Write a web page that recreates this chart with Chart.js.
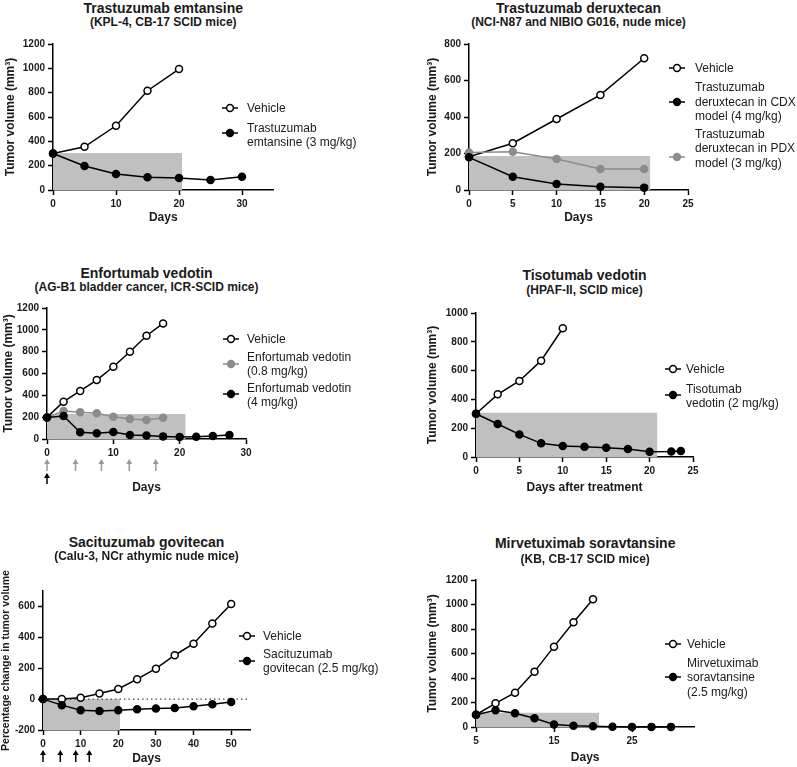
<!DOCTYPE html>
<html>
<head>
<meta charset="utf-8">
<script src="https://cdn.jsdelivr.net/npm/chart.js@4.4.1/dist/chart.umd.min.js"></script>
<style>
  body { margin: 0; width: 797px; height: 767px; position: relative; overflow: hidden; background: #fff;
         font-family: "Liberation Sans", Arial, sans-serif; color: #1a1a1a; }
  canvas { position: absolute; }
  .t { position: absolute; width: 400px; text-align: center; font-weight: bold; white-space: nowrap; line-height: 1.15; }
  .lg { position: absolute; font-size: 12px; line-height: 14.5px; white-space: nowrap; }
  .mk { position: absolute; }
</style>
</head>
<body>
<script>
// ---- A: trastuzumab emtansine (KPL-4) ----
const tdm1VehDays = [0, 5, 10, 15, 20];
const tdm1Vehicle = [300, 355, 528, 816, 994];
const tdm1DrugDays = [0, 5, 10, 15, 20, 25, 30];
const tdm1Drug = [300, 197, 131, 104, 99, 82, 109];
const tdm1ShadeDays = [0, 20.5];
const tdm1ShadeVol = [305, 305];
const tdm1XTicks = [0, 10, 20, 30];
const tdm1YTicks = [0, 200, 400, 600, 800, 1000, 1200];

// ---- B: trastuzumab deruxtecan ----
const tdxdDays = [0, 5, 10, 15, 20];
const tdxdVehicle = [182, 256, 389, 521, 722];
const tdxdCdx = [179, 73, 33, 18, 13];
const tdxdPdx = [206, 210, 170, 115, 115];
const tdxdShadeDays = [0, 20.7];
const tdxdShadeVol = [186, 186];
const tdxdXTicks = [0, 5, 10, 15, 20, 25];
const tdxdYTicks = [0, 200, 400, 600, 800];

// ---- C: enfortumab vedotin ----
const evVehDays = [0, 2.5, 5, 7.5, 10, 12.5, 15, 17.5];
const evVehicle = [198, 342, 440, 540, 662, 799, 946, 1059];
const evLow = [198, 256, 244, 235, 204, 183, 174, 195];
const evHighDays = [0, 2.5, 5, 7.5, 10, 12.5, 15, 17.5, 20, 22.5, 25, 27.5];
const evHigh = [198, 211, 61, 52, 64, 37, 31, 24, 18, 21, 27, 37];
const evShadeDays = [0, 20.9];
const evShadeVol = [228, 228];
const evLowDoseDays = [0, 4.3, 8.2, 12.4, 16.4];
const evHighDoseDays = [0];
const evXTicks = [0, 10, 20, 30];
const evYTicks = [0, 200, 400, 600, 800, 1000, 1200];

// ---- D: tisotumab vedotin ----
const tvVehDays = [0, 2.5, 5, 7.5, 10];
const tvVehicle = [300, 435, 528, 669, 894];
const tvDrugDays = [0, 2.5, 5, 7.5, 10, 12.5, 15, 17.5, 20, 22.5, 23.6];
const tvDrug = [300, 229, 157, 95, 76, 72, 65, 56, 37, 39, 42];
const tvShadeDays = [0, 20.9];
const tvShadeVol = [307, 307];
const tvXTicks = [0, 5, 10, 15, 20, 25];
const tvYTicks = [0, 200, 400, 600, 800, 1000];

// ---- E: sacituzumab govitecan (% change) ----
const sgDays = [0, 5, 10, 15, 20, 25, 30, 35, 40, 45, 50];
const sgVehicle = [0, 0, 9, 37, 66, 129, 197, 284, 359, 490, 616];
const sgDrug = [0, -39, -72, -77, -72, -66, -61, -57, -46, -33, -18];
const sgShadeDays = [0, 20.5];
const sgShadeVal = [0, 0];
const sgZeroDays = [0, 55];
const sgZeroVal = [0, 0];
const sgDoseDays = [0, 4.6, 8.7, 12.3];
const sgXTicks = [0, 10, 20, 30, 40, 50];
const sgYTicks = [-200, 0, 200, 400, 600];

// ---- F: mirvetuximab soravtansine ----
const mirvVehDays = [5, 7.5, 10, 12.5, 15, 17.5, 20];
const mirvVehicle = [100, 193, 280, 452, 656, 855, 1043];
const mirvDrugDays = [5, 7.5, 10, 12.5, 15, 17.5, 20, 22.5, 25, 27.5, 30];
const mirvDrug = [100, 137, 112, 71, 20, 10, 6, 2, 1, 1, 1];
const mirvShadeDays = [5, 20.8];
const mirvShadeVol = [117, 117];
const mirvXTicks = [5, 15, 25];
const mirvYTicks = [0, 200, 400, 600, 800, 1000, 1200];

Chart.defaults.font.family = '"Liberation Sans", Arial, sans-serif';
Chart.defaults.color = '#1a1a1a';

const COLORS = { open: '#000', black: '#000', gray: '#8c8c8c' };

function pts(xs, ys) { return xs.map((x, i) => ({ x: x, y: ys[i] })); }

function lineSet(xs, ys, kind, order) {
  const col = COLORS[kind];
  return {
    data: pts(xs, ys), order: order, clip: false,
    borderColor: col, borderWidth: 1.5,
    pointRadius: 3.5, pointHoverRadius: 3.5, pointBorderWidth: 1.5,
    pointBorderColor: col, pointBackgroundColor: kind === 'open' ? '#fff' : col
  };
}

function shadeSet(xs, ys) {
  return { data: pts(xs, ys), order: 10, clip: false, fill: 'start',
           backgroundColor: '#c0c0c0', borderColor: 'rgba(0,0,0,0)', borderWidth: 0, pointRadius: 0 };
}

function dottedSet(xs, ys) {
  return { data: pts(xs, ys), order: 5, clip: false, borderColor: '#444', borderWidth: 1.2,
           borderDash: [1.5, 3], pointRadius: 0 };
}

function marker(kind, cx, cy) {
  const col = COLORS[kind];
  const fill = kind === 'open' ? '#fff' : col;
  return '<svg class="mk" style="left:' + (cx - 8) + 'px;top:' + (cy - 6) + 'px" width="16" height="12">' +
    '<line x1="0" y1="6" x2="16" y2="6" stroke="' + col + '" stroke-width="1.5"/>' +
    '<circle cx="8" cy="6" r="3.4" fill="' + fill + '" stroke="' + col + '" stroke-width="1.5"/></svg>';
}

function addHtml(html) { document.body.insertAdjacentHTML('beforeend', html); }

// dose arrows under the x axis
function arrowPlugin(specs) {
  return {
    id: 'doseArrows',
    afterDraw(chart) {
      const ctx = chart.ctx, xs = chart.scales.x, base = chart.chartArea.bottom;
      specs.forEach(sp => {
        sp.days.forEach(d => {
          const x = xs.getPixelForValue(d), tip = base + sp.tip;
          ctx.save();
          ctx.strokeStyle = sp.color; ctx.fillStyle = sp.color; ctx.lineWidth = 1.5;
          ctx.beginPath(); ctx.moveTo(x, tip + 3); ctx.lineTo(x, tip + sp.len); ctx.stroke();
          ctx.beginPath(); ctx.moveTo(x, tip); ctx.lineTo(x - 3, tip + 5); ctx.lineTo(x + 3, tip + 5); ctx.closePath(); ctx.fill();
          ctx.restore();
        });
      });
    }
  };
}

function buildPanel(c) {
  const cLeft = c.x0;
  const cTop = Math.floor(c.top) - (c.topMargin || 12);
  const w = Math.ceil(c.right + 15 - cLeft);
  const h = Math.ceil(c.xTitleY + 10 - cTop);
  const padTop = c.top - cTop;
  const padRight = cLeft + w - c.right;
  const yAxisW = c.left - cLeft;
  const xAxisH = cTop + h - c.bottom;
  const xTitlePad = (cTop + h) - c.xTitleY - 12 * 1.2 / 2;
  const yTitlePad = Math.max(0, c.yTitleX - cLeft - c.yTitleSize * 1.2 / 2);

  const cv = document.createElement('canvas');
  cv.width = w; cv.height = h;
  cv.style.left = cLeft + 'px'; cv.style.top = cTop + 'px';
  cv.style.width = w + 'px'; cv.style.height = h + 'px';
  document.body.appendChild(cv);

  const axisCommon = {
    type: 'linear',
    grid: { display: true, drawOnChartArea: false, drawTicks: true, tickLength: 5, tickWidth: 1.5, tickColor: '#000' },
    border: { display: true, color: '#000', width: 1.5 },
  };

  new Chart(cv, {
    type: 'line',
    data: { datasets: c.datasets },
    options: {
      responsive: false, animation: false, devicePixelRatio: 1, events: [],
      layout: { padding: { left: 0, top: padTop, right: padRight, bottom: 0 } },
      plugins: { legend: { display: false }, tooltip: { enabled: false } },
      scales: {
        x: Object.assign({}, axisCommon, {
          min: c.xMin, max: c.xMax,
          afterBuildTicks: s => { s.ticks = c.xTicks.map(v => ({ value: v })); },
          afterFit: s => { s.height = xAxisH; },
          ticks: { font: { size: 10, weight: 'bold' }, color: '#1a1a1a', padding: 3, maxRotation: 0, autoSkip: false, callback: v => String(v) },
          title: { display: true, text: c.xTitle, color: '#1a1a1a', font: { size: 12, weight: 'bold' }, padding: { top: 0, bottom: xTitlePad } }
        }),
        y: Object.assign({}, axisCommon, {
          min: c.yMin, max: c.yMax,
          afterBuildTicks: s => { s.ticks = c.yTicks.map(v => ({ value: v })); },
          afterFit: s => { s.width = yAxisW; },
          ticks: { font: { size: 10, weight: 'bold' }, color: '#1a1a1a', padding: 3, autoSkip: false, callback: v => String(v) },
          title: { display: true, text: c.yTitle, color: '#1a1a1a', font: { size: c.yTitleSize, weight: 'bold' }, padding: { top: yTitlePad, bottom: 0 } }
        })
      }
    },
    plugins: c.arrows ? [arrowPlugin(c.arrows)] : []
  });

  // title + subtitle, centred over the x axis
  const cx = (c.left + c.right) / 2;
  addHtml('<div class="t" style="font-size:14px;left:' + (cx - 200) + 'px;top:' + (c.titleY - 8) + 'px">' + c.title + '</div>');
  addHtml('<div class="t" style="font-size:12px;left:' + (cx - 200) + 'px;top:' + (c.subY - 7) + 'px">' + c.subtitle + '</div>');

  // legend
  c.legend.forEach(e => {
    addHtml(marker(e.kind, c.legMarkX, e.markY));
    addHtml('<div class="lg" style="left:' + c.legTextX + 'px;top:' + (e.textY - 7.25) + 'px">' + e.lines.join('<br>') + '</div>');
  });
}

const VOL = 'Tumor volume (mm³)';

buildPanel({
  x0: 0, left: 53, top: 44, right: 273.5, bottom: 190,
  xMin: 0, xMax: 35, yMin: 0, yMax: 1200, xTicks: tdm1XTicks, yTicks: tdm1YTicks,
  xTitle: 'Days', xTitleY: 218, yTitle: VOL, yTitleX: 11, yTitleSize: 12,
  title: 'Trastuzumab emtansine', subtitle: '(KPL-4, CB-17 SCID mice)', titleY: 8, subY: 23,
  datasets: [
    shadeSet(tdm1ShadeDays, tdm1ShadeVol),
    lineSet(tdm1VehDays, tdm1Vehicle, 'open', 3),
    lineSet(tdm1DrugDays, tdm1Drug, 'black', 1)
  ],
  legMarkX: 230, legTextX: 247,
  legend: [
    { kind: 'open', markY: 108, textY: 108, lines: ['Vehicle'] },
    { kind: 'black', markY: 133, textY: 128, lines: ['Trastuzumab', 'emtansine (3 mg/kg)'] }
  ]
});

buildPanel({
  x0: 400, left: 469, top: 44, right: 688, bottom: 190,
  xMin: 0, xMax: 25, yMin: 0, yMax: 800, xTicks: tdxdXTicks, yTicks: tdxdYTicks,
  xTitle: 'Days', xTitleY: 218, yTitle: VOL, yTitleX: 433, yTitleSize: 12,
  title: 'Trastuzumab deruxtecan', subtitle: '(NCI-N87 and NIBIO G016, nude mice)', titleY: 8, subY: 23,
  datasets: [
    shadeSet(tdxdShadeDays, tdxdShadeVol),
    lineSet(tdxdDays, tdxdVehicle, 'open', 3),
    lineSet(tdxdDays, tdxdPdx, 'gray', 2),
    lineSet(tdxdDays, tdxdCdx, 'black', 1)
  ],
  legMarkX: 677, legTextX: 695,
  legend: [
    { kind: 'open', markY: 68, textY: 68, lines: ['Vehicle'] },
    { kind: 'black', markY: 102, textY: 87.5, lines: ['Trastuzumab', 'deruxtecan in CDX', 'model (4 mg/kg)'] },
    { kind: 'gray', markY: 157, textY: 134, lines: ['Trastuzumab', 'deruxtecan in PDX', 'model (3 mg/kg)'] }
  ]
});

buildPanel({
  x0: 0, left: 47, top: 308, right: 246, bottom: 439,
  xMin: 0, xMax: 30, yMin: 0, yMax: 1200, xTicks: evXTicks, yTicks: evYTicks,
  xTitle: 'Days', xTitleY: 488, yTitle: VOL, yTitleX: 9, yTitleSize: 12,
  title: 'Enfortumab vedotin', subtitle: '(AG-B1 bladder cancer, ICR-SCID mice)', titleY: 273, subY: 288,
  datasets: [
    shadeSet(evShadeDays, evShadeVol),
    lineSet(evVehDays, evVehicle, 'open', 3),
    lineSet(evVehDays, evLow, 'gray', 2),
    lineSet(evHighDays, evHigh, 'black', 1)
  ],
  arrows: [
    { days: evLowDoseDays, color: '#999', tip: 20, len: 12 },
    { days: evHighDoseDays, color: '#000', tip: 34, len: 11 }
  ],
  legMarkX: 231, legTextX: 247,
  legend: [
    { kind: 'open', markY: 339, textY: 339, lines: ['Vehicle'] },
    { kind: 'gray', markY: 364, textY: 357, lines: ['Enfortumab vedotin', '(0.8 mg/kg)'] },
    { kind: 'black', markY: 394, textY: 388, lines: ['Enfortumab vedotin', '(4 mg/kg)'] }
  ]
});

buildPanel({
  x0: 400, left: 476, top: 313, right: 693, bottom: 457,
  xMin: 0, xMax: 25, yMin: 0, yMax: 1000, xTicks: tvXTicks, yTicks: tvYTicks,
  xTitle: 'Days after treatment', xTitleY: 488, yTitle: VOL, yTitleX: 433, yTitleSize: 12,
  title: 'Tisotumab vedotin', subtitle: '(HPAF-II, SCID mice)', titleY: 275, subY: 291,
  datasets: [
    shadeSet(tvShadeDays, tvShadeVol),
    lineSet(tvVehDays, tvVehicle, 'open', 3),
    lineSet(tvDrugDays, tvDrug, 'black', 1)
  ],
  legMarkX: 673, legTextX: 686,
  legend: [
    { kind: 'open', markY: 369, textY: 369, lines: ['Vehicle'] },
    { kind: 'black', markY: 395, textY: 389, lines: ['Tisotumab', 'vedotin (2 mg/kg)'] }
  ]
});

buildPanel({
  x0: 0, left: 43, top: 591, right: 250, bottom: 730, topMargin: 28,
  xMin: 0, xMax: 55, yMin: -200, yMax: 700, xTicks: sgXTicks, yTicks: sgYTicks,
  xTitle: 'Days', xTitleY: 759, yTitle: 'Percentage change in tumor volume', yTitleX: 6, yTitleSize: 10.5,
  title: 'Sacituzumab govitecan', subtitle: '(Calu-3, NCr athymic nude mice)', titleY: 542, subY: 557,
  datasets: [
    shadeSet(sgShadeDays, sgShadeVal),
    dottedSet(sgZeroDays, sgZeroVal),
    lineSet(sgDays, sgVehicle, 'open', 3),
    lineSet(sgDays, sgDrug, 'black', 1)
  ],
  arrows: [{ days: sgDoseDays, color: '#000', tip: 20, len: 12 }],
  legMarkX: 247, legTextX: 263,
  legend: [
    { kind: 'open', markY: 636, textY: 636, lines: ['Vehicle'] },
    { kind: 'black', markY: 661, textY: 654, lines: ['Sacituzumab', 'govitecan (2.5 mg/kg)'] }
  ]
});

buildPanel({
  x0: 400, left: 476, top: 580, right: 694.4, bottom: 727,
  xMin: 5, xMax: 33, yMin: 0, yMax: 1200, xTicks: mirvXTicks, yTicks: mirvYTicks,
  xTitle: 'Days', xTitleY: 758, yTitle: VOL, yTitleX: 433, yTitleSize: 12,
  title: 'Mirvetuximab soravtansine', subtitle: '(KB, CB-17 SCID mice)', titleY: 543, subY: 560,
  datasets: [
    shadeSet(mirvShadeDays, mirvShadeVol),
    lineSet(mirvVehDays, mirvVehicle, 'open', 3),
    lineSet(mirvDrugDays, mirvDrug, 'black', 1)
  ],
  legMarkX: 673, legTextX: 687,
  legend: [
    { kind: 'open', markY: 644, textY: 644, lines: ['Vehicle'] },
    { kind: 'black', markY: 677, textY: 663, lines: ['Mirvetuximab', 'soravtansine', '(2.5 mg/kg)'] }
  ]
});
</script>
</body>
</html>
